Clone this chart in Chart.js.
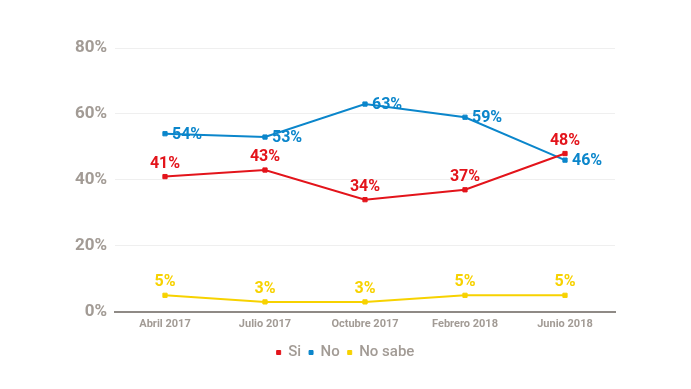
<!DOCTYPE html>
<html>
<head>
<meta charset="utf-8">
<script src="https://cdn.jsdelivr.net/npm/chart.js@4"></script>
<style>
  html, body { margin: 0; padding: 0; background: #fff; }
  #wrap { width: 691px; height: 389px; }
</style>
</head>
<body>
<div id="wrap"><canvas id="myChart" width="691" height="389"></canvas></div>
<script>
const categories = ["Abril 2017", "Julio 2017", "Octubre 2017", "Febrero 2018", "Junio 2018"];
const siValues = [41, 43, 34, 37, 48];
const noValues = [54, 53, 63, 59, 46];
const noSabeValues = [5, 3, 3, 5, 5];
const yTicks = [0, 20, 40, 60, 80];

const RED = "#e3141b";
const BLUE = "#0b86cb";
const YELLOW = "#f7d200";
const GREY = "#a29b95";

// draws the value labels next to each point
const valueLabels = {
  id: "valueLabels",
  afterDatasetsDraw(chart) {
    const ctx = chart.ctx;
    ctx.save();
    ctx.font = "bold 16px Roboto";
    chart.data.datasets.forEach((ds, di) => {
      let meta = chart.getDatasetMeta(di);
      meta.data.forEach((pt, i) => {
        let txt = ds.data[i] + "%";
        ctx.fillStyle = ds.borderColor;
        if (ds.labelPos === "right") {
          ctx.textAlign = "left";
          ctx.textBaseline = "middle";
          ctx.fillText(txt, pt.x + 7, pt.y + 1);
        } else {
          ctx.textAlign = "center";
          ctx.textBaseline = "alphabetic";
          ctx.fillText(txt, pt.x, pt.y - 9);
        }
      });
    });
    ctx.restore();
  },
};

let ctx = document.getElementById("myChart");
new Chart(ctx, {
  type: "line",
  data: {
    labels: categories,
    datasets: [
      {
        label: "Si",
        data: siValues,
        borderColor: RED,
        backgroundColor: RED,
        labelPos: "top",
      },
      {
        label: "No",
        data: noValues,
        borderColor: BLUE,
        backgroundColor: BLUE,
        labelPos: "right",
      },
      {
        label: "No sabe",
        data: noSabeValues,
        borderColor: YELLOW,
        backgroundColor: YELLOW,
        labelPos: "top",
      },
    ],
  },
  options: {
    responsive: false,
    animation: false,
    layout: { padding: { top: 48, right: 0, bottom: 19, left: 0 } },
    elements: {
      line: { borderWidth: 2, tension: 0 },
      point: { pointStyle: "rect", radius: 3, hoverRadius: 3 },
    },
    plugins: {
      legend: {
        position: "bottom",
        labels: {
          usePointStyle: true,
          pointStyle: "rect",
          boxWidth: 4,
          boxHeight: 4,
          padding: 8,
          color: GREY,
          font: { family: "Roboto", size: 15, weight: "500" },
        },
      },
      tooltip: { enabled: false },
    },
    scales: {
      x: {
        offset: true,
        grid: { display: false, drawTicks: false },
        border: { color: "#8f8a86", width: 2 },
        ticks: {
          color: GREY,
          padding: 6,
          font: { family: "Roboto", size: 11, weight: "bold" },
        },
      },
      y: {
        min: 0,
        max: 80,
        afterFit(scale) { scale.width = 115; },
        afterBuildTicks(scale) { scale.ticks = yTicks.map(v => ({ value: v })); },
        grid: { color: "#efefef", drawTicks: false },
        border: { display: false },
        ticks: {
          color: GREY,
          padding: 8,
          font: { family: "Roboto", size: 17, weight: "bold" },
          callback: v => v + "%",
        },
      },
      // empty right axis, only reserves the right margin
      yRight: {
        position: "right",
        min: 0,
        max: 80,
        afterFit(scale) { scale.width = 76; },
        grid: { display: false, drawTicks: false },
        border: { display: false },
        ticks: { display: false },
      },
    },
  },
  plugins: [valueLabels],
});
</script>
</body>
</html>
